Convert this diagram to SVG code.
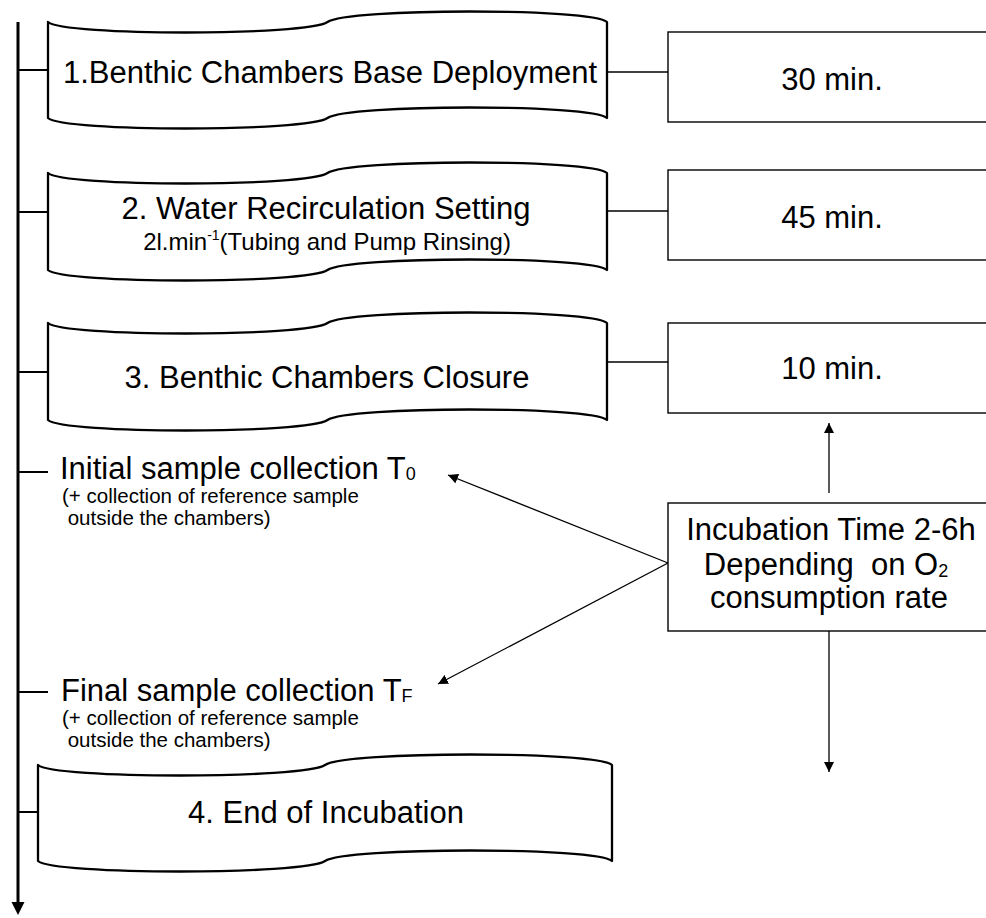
<svg xmlns="http://www.w3.org/2000/svg" width="986" height="918" viewBox="0 0 986 918">
<style>
text{font-family:"Liberation Sans",Arial,sans-serif;fill:#000}
.t31{font-size:31px}
.t24{font-size:24px}
.t20{font-size:20.5px}
.sub{font-size:18px}
.tape{fill:#fff;stroke:#000;stroke-width:2.3;stroke-linejoin:round}
.box{fill:#fff;stroke:#000;stroke-width:1.4}
.main{stroke:#000;stroke-width:3;fill:none}
.br{stroke:#000;stroke-width:2;fill:none}
.ln{stroke:#000;stroke-width:1.3;fill:none}
</style>
<defs>
<marker id="ah" viewBox="0 0 10 10" refX="10" refY="5" markerWidth="10" markerHeight="10" markerUnits="userSpaceOnUse" orient="auto">
<path d="M0,0 L10,5 L0,10 Z" fill="#000"/>
</marker>
</defs>
<g id="connectors">
<line class="main" x1="18" y1="22" x2="18" y2="903"/>
<path d="M11.5,902 L24.5,902 L18,915 Z" fill="#000"/>
<line class="br" x1="18" y1="70" x2="48" y2="70"/>
<line class="br" x1="18" y1="212" x2="48" y2="212"/>
<line class="br" x1="18" y1="372" x2="48" y2="372"/>
<line class="br" x1="18" y1="472" x2="48" y2="472"/>
<line class="br" x1="18" y1="692" x2="48" y2="692"/>
<line class="br" x1="18" y1="812" x2="38" y2="812"/>
<line class="ln" x1="607" y1="72" x2="668" y2="72"/>
<line class="ln" x1="607" y1="211" x2="668" y2="211"/>
<line class="ln" x1="607" y1="362" x2="668" y2="362"/>
<line class="ln" x1="668" y1="563" x2="448" y2="475" marker-end="url(#ah)"/>
<line class="ln" x1="668" y1="563" x2="438" y2="684" marker-end="url(#ah)"/>
<line class="ln" x1="829" y1="493" x2="829" y2="423" marker-end="url(#ah)"/>
<line class="ln" x1="829" y1="631" x2="829" y2="772" marker-end="url(#ah)"/>
</g>
<g id="step1">
<path class="tape" d="M48,22 C63,36 307.5,36 327.5,22 C347.5,8 592,8 607,22 L607,118 C592,104 347.5,104 327.5,118 C307.5,132 63,132 48,118 Z"/>
<text class="t31" x="330" y="83" text-anchor="middle">1.Benthic Chambers Base Deployment</text>
</g>
<g id="step2">
<path class="tape" d="M48,173 C63,187 307.5,187 327.5,173 C347.5,159 592,159 607,173 L607,270 C592,256 347.5,256 327.5,270 C307.5,284 63,284 48,270 Z"/>
<text class="t31" x="326" y="219" text-anchor="middle">2. Water Recirculation Setting</text>
<text class="t24" x="327" y="250" text-anchor="middle">2l.min<tspan font-size="14" dy="-10">-1</tspan><tspan dy="10">(Tubing and Pump Rinsing)</tspan></text>
</g>
<g id="step3">
<path class="tape" d="M48,323 C63,337 307.5,337 327.5,323 C347.5,309 592,309 607,323 L607,420 C592,406 347.5,406 327.5,420 C307.5,434 63,434 48,420 Z"/>
<text class="t31" x="327" y="388" text-anchor="middle">3. Benthic Chambers Closure</text>
</g>
<g id="step4">
<path class="tape" d="M38,765 C53,779 305,779 325,765 C345,751 597,751 612,765 L612,861 C597,847 345,847 325,861 C305,875 53,875 38,861 Z"/>
<text class="t31" x="326" y="823" text-anchor="middle">4. End of Incubation</text>
</g>
<g id="time1">
<rect class="box" x="668" y="32" width="340" height="90"/>
<text class="t31" x="832" y="90" text-anchor="middle">30 min.</text>
</g>
<g id="time2">
<rect class="box" x="668" y="170" width="340" height="90"/>
<text class="t31" x="832" y="228" text-anchor="middle">45 min.</text>
</g>
<g id="time3">
<rect class="box" x="668" y="323" width="340" height="90"/>
<text class="t31" x="832" y="379" text-anchor="middle">10 min.</text>
</g>
<g id="incubation">
<rect class="box" x="668" y="503" width="340" height="128"/>
<text class="t31" x="831" y="540" text-anchor="middle">Incubation Time 2-6h</text>
<text class="t31" x="826" y="575" text-anchor="middle" xml:space="preserve">Depending  on O<tspan class="sub" dy="2">2</tspan></text>
<text class="t31" x="829" y="608" text-anchor="middle">consumption rate</text>
</g>
<g id="t0">
<text class="t31" x="60" y="479">Initial sample collection T<tspan class="sub" dy="1">0</tspan></text>
<text class="t20" x="62" y="503">(+ collection of reference sample</text>
<text class="t20" x="62" y="525" xml:space="preserve"> outside the chambers)</text>
</g>
<g id="tf">
<text class="t31" x="61" y="701">Final sample collection T<tspan class="sub" dy="1">F</tspan></text>
<text class="t20" x="62" y="725">(+ collection of reference sample</text>
<text class="t20" x="62" y="747" xml:space="preserve"> outside the chambers)</text>
</g>
</svg>
